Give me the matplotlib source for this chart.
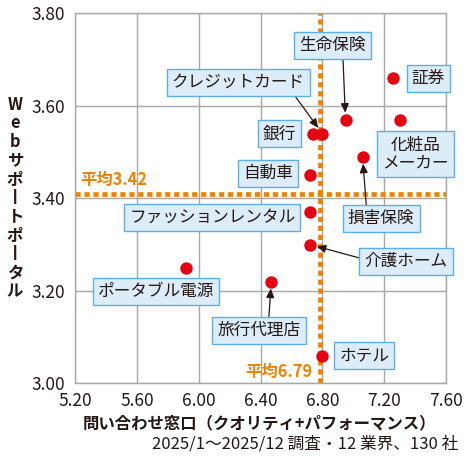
import matplotlib
matplotlib.use("Agg")
import matplotlib.pyplot as plt

plt.rcParams['font.family'] = ['Noto Sans CJK JP', 'DejaVu Sans']

# ---- data ----
names = ["証券", "化粧品\nメーカー", "生命保険", "銀行", "クレジットカード", "損害保険",
         "自動車", "ファッションレンタル", "介護ホーム", "旅行代理店", "ポータブル電源", "ホテル"]
x_vals = [7.26, 7.30, 6.95, 6.74, 6.80, 7.06, 6.72, 6.72, 6.72, 6.47, 5.92, 6.80]
y_vals = [3.66, 3.57, 3.57, 3.54, 3.54, 3.49, 3.45, 3.37, 3.30, 3.22, 3.25, 3.06]
avg_x = 6.79
avg_y = 3.42
x_ticks = [5.20, 5.60, 6.00, 6.40, 6.80, 7.20, 7.60]
y_ticks = [3.00, 3.20, 3.40, 3.60, 3.80]
x_label = "問い合わせ窓口（クオリティ+パフォーマンス）"
y_label = "Webサポートポータル"
footnote = "2025/1～2025/12 調査・12 業界、130 社"

# label placement (offset in points, arrow relpos or None)
label_layout = {
    "証券": ((25, 0), None),
    "化粧品\nメーカー": ((11.3, -24.8), None),
    "生命保険": ((-9.4, 53.6), (0.655, 0.0)),
    "銀行": ((-24, 0), None),
    "クレジットカード": ((-60.5, 36.6), (0.9, 0.0)),
    "損害保険": ((13.5, -44.6), (0.28, 1.0)),
    "自動車": ((-30, 1), None),
    "ファッションレンタル": ((-70.3, -4), None),
    "介護ホーム": ((69.1, -12.2), (0.0, 0.63)),
    "旅行代理店": ((-8.9, -35.3), (0.615, 1.0)),
    "ポータブル電源": ((-21.9, -17.5), None),
    "ホテル": ((30.2, 0), None),
}

TXT = "#231815"
ORANGE = "#ef8200"
GRID = "#a8a8a8"
RED = "#e50012"

fig = plt.figure(figsize=(4.70, 4.63), dpi=100)
ax = fig.add_axes([75/470, 1-383.3/463, (446-75)/470, (383.3-13.3)/463])

ax.set_xlim(x_ticks[0], x_ticks[-1])
ax.set_ylim(y_ticks[0], y_ticks[-1])
ax.set_xticks(x_ticks)
ax.set_yticks(y_ticks)
ax.set_xticklabels([f"{v:.2f}" for v in x_ticks])
ax.set_yticklabels([f"{v:.2f}" for v in y_ticks])
ax.tick_params(length=0, labelsize=12.5, colors=TXT, pad=7)
ax.tick_params(axis='x', pad=6)
ax.grid(True, color=GRID, linewidth=1.0)
ax.set_axisbelow(True)
for sp in ax.spines.values():
    sp.set_color(GRID)
    sp.set_linewidth(1.0)

# average lines
ax.axhline(avg_y - 0.01, color=ORANGE, linewidth=3.4, dashes=(1.1, 0.8), zorder=2)
ax.axvline(avg_x - 0.005, color=ORANGE, linewidth=3.4, dashes=(1.1, 0.8), zorder=2)
ax.text(80/470, 1-180/463, f"平均{avg_y:.2f}", transform=fig.transFigure, color=ORANGE,
        fontsize=11.8, fontweight='bold', ha='left', va='center')
ax.text(312/470, 1-371.7/463, f"平均{avg_x:.2f}", transform=fig.transFigure, color=ORANGE,
        fontsize=11.8, fontweight='bold', ha='right', va='center')

ax.scatter(x_vals, y_vals, s=80, color=RED, zorder=4, linewidths=0)

box = dict(boxstyle='square,pad=0.3', facecolor='#dcedf9', edgecolor='#5ab0e2', linewidth=1.0)
for n, xv, yv in zip(names, x_vals, y_vals):
    off, rel = label_layout[n]
    kw = {}
    if rel is not None:
        kw['arrowprops'] = dict(arrowstyle='-|>,head_length=0.45,head_width=0.2', color=TXT,
                                linewidth=0.9, relpos=rel, shrinkA=0, shrinkB=5)
    ax.annotate(n, xy=(xv, yv), xytext=off, textcoords='offset points',
                ha='center', va='center', fontsize=12, color=TXT, bbox=box,
                linespacing=1.12, zorder=5, **kw)

fig.text(0.5*(80+438)/470, 1-423/463, x_label, ha='center', va='center',
         fontsize=11.8, fontweight='bold', color=TXT)

ylabel_chars = [c if c != "ー" else "丨" for c in y_label]
fig.text(15/470, 1-198/463, "\n".join(ylabel_chars), ha='center', va='center',
         multialignment='center', fontsize=11.8, fontweight='bold', color=TXT, linespacing=1.05)

fig.text(458/470, 1-444/463, footnote, ha='right', va='center', fontsize=12, color=TXT)

fig.savefig("out.png", dpi=100, facecolor='white')
